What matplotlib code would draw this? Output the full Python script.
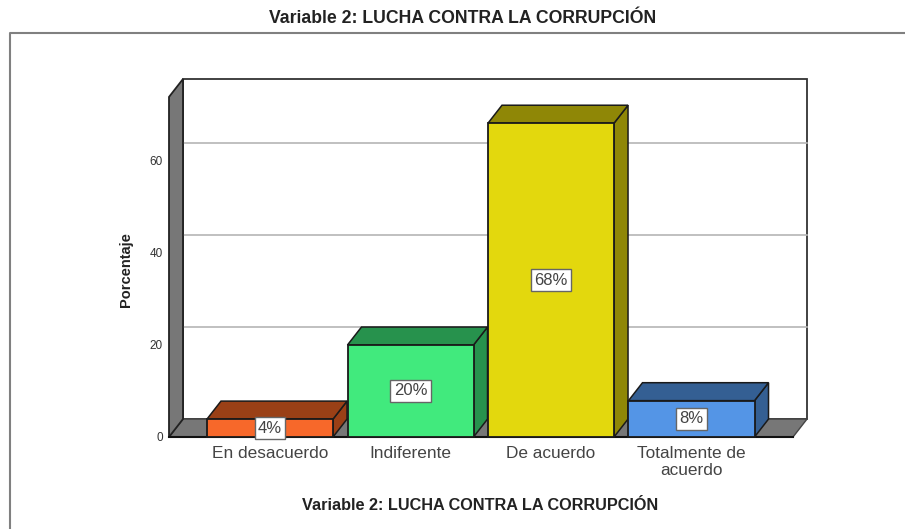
import matplotlib
matplotlib.use("Agg")
from matplotlib import pyplot as plt
from matplotlib.patches import Polygon, Rectangle

plt.rcParams['font.family'] = ['Liberation Sans', 'DejaVu Sans']

categories = ["En desacuerdo", "Indiferente", "De acuerdo", "Totalmente de\nacuerdo"]
values = [3.9, 20.0, 68.2, 7.9]
labels = ["4%", "20%", "68%", "8%"]
front_colors = ["#F7682A", "#41EA7D", "#E3D80D", "#5495E6"]
top_colors = ["#9A4016", "#27924D", "#8F8706", "#345F93"]
side_colors = ["#9A4016", "#27924D", "#8F8706", "#345F93"]
yticks = [0, 20, 40, 60]
title = "Variable 2: LUCHA CONTRA LA CORRUPCIÓN"

W, H = 905, 529
fig = plt.figure(figsize=(W / 100, H / 100), dpi=100)
fig.patch.set_facecolor("white")

# outer frame of the chart, open at right and bottom
fig.add_artist(plt.Line2D([9.5 / W, 9.5 / W, 905 / W], [0, 1 - 33 / H, 1 - 33 / H],
                          color="#808080", lw=1.5))
fig.text(463 / W, 1 - 18.5 / H, title, ha="center", va="center", fontsize=12.7,
         fontweight="bold", color="#222222")

ax = fig.add_axes([169 / W, 1 - 437 / H, (807 - 169) / W, (437 - 79) / H])
ax.set_xlim(-0.719, 3.822)
ax.set_ylim(0, 77.8)
ax.axis("off")

dx = 0.0996  # depth of the 3d look, in data units
dy = 3.9
bar_w = 0.897
edge = "#1a1a1a"
x0, x1 = ax.get_xlim()
y1 = ax.get_ylim()[1]
wall = "#777777"

# back wall
ax.add_patch(Rectangle((x0 + dx, dy), x1 - x0 - dx, y1 - dy, fc="white", ec="#333333",
                       lw=1.3, clip_on=False, zorder=1))
for t in yticks[1:]:
    ax.plot([x0 + dx, x1], [t + dy, t + dy], color="#b5b5b5", lw=1.2, zorder=1.5, clip_on=False)

# floor and left wall
ax.add_patch(Polygon([(x0, 0), (x0 + dx, dy), (x1, dy), (x1 - dx, 0)], fc=wall, ec="#444444",
                     lw=1.0, clip_on=False, zorder=2))
ax.add_patch(Polygon([(x0, 0), (x0 + dx, dy), (x0 + dx, y1), (x0, y1 - dy)], fc=wall, ec="#222222",
                     lw=1.3, clip_on=False, zorder=2))
ax.plot([x0, x1 - dx], [0, 0], color="#111111", lw=1.5, zorder=2.5, clip_on=False)

for i, v in enumerate(values):
    l = i - bar_w / 2
    r = i + bar_w / 2
    z = 3 + i
    ax.add_patch(Polygon([(r, 0), (r + dx, dy), (r + dx, v + dy), (r, v)], fc=side_colors[i], ec=edge,
                         lw=1.1, zorder=z, clip_on=False))
    ax.add_patch(Polygon([(l, v), (l + dx, v + dy), (r + dx, v + dy), (r, v)], fc=top_colors[i], ec=edge,
                         lw=1.1, zorder=z, clip_on=False))
    ax.add_patch(Rectangle((l, 0), bar_w, v, fc=front_colors[i], ec=edge, lw=1.3, zorder=z + 0.1,
                           clip_on=False))

for i, v in enumerate(values):
    ax.text(i, v / 2 if v > 5 else 1.9, labels[i], ha="center", va="center", fontsize=12, color="#444444",
            zorder=10, bbox=dict(boxstyle="square,pad=0.2", fc="white", ec="#666666", lw=1))
    ax.text(i, -1.9, categories[i], ha="center", va="top", fontsize=12.4, color="#444444",
            linespacing=1.2, zorder=10, clip_on=False)

for t in yticks:
    ax.text(x0 - 0.045, t - 0.2, str(t), ha="right", va="center", fontsize=8.5, color="#333333", clip_on=False)

fig.text(126 / W, 1 - 270 / H, "Porcentaje", rotation=90, ha="center", va="center", fontsize=10.5,
         fontweight="bold", color="#222222")
fig.text(480 / W, 1 - 506 / H, title, ha="center", va="center", fontsize=11.7,
         fontweight="bold", color="#222222")

fig.savefig("out.png", dpi=100)
plt.close()
